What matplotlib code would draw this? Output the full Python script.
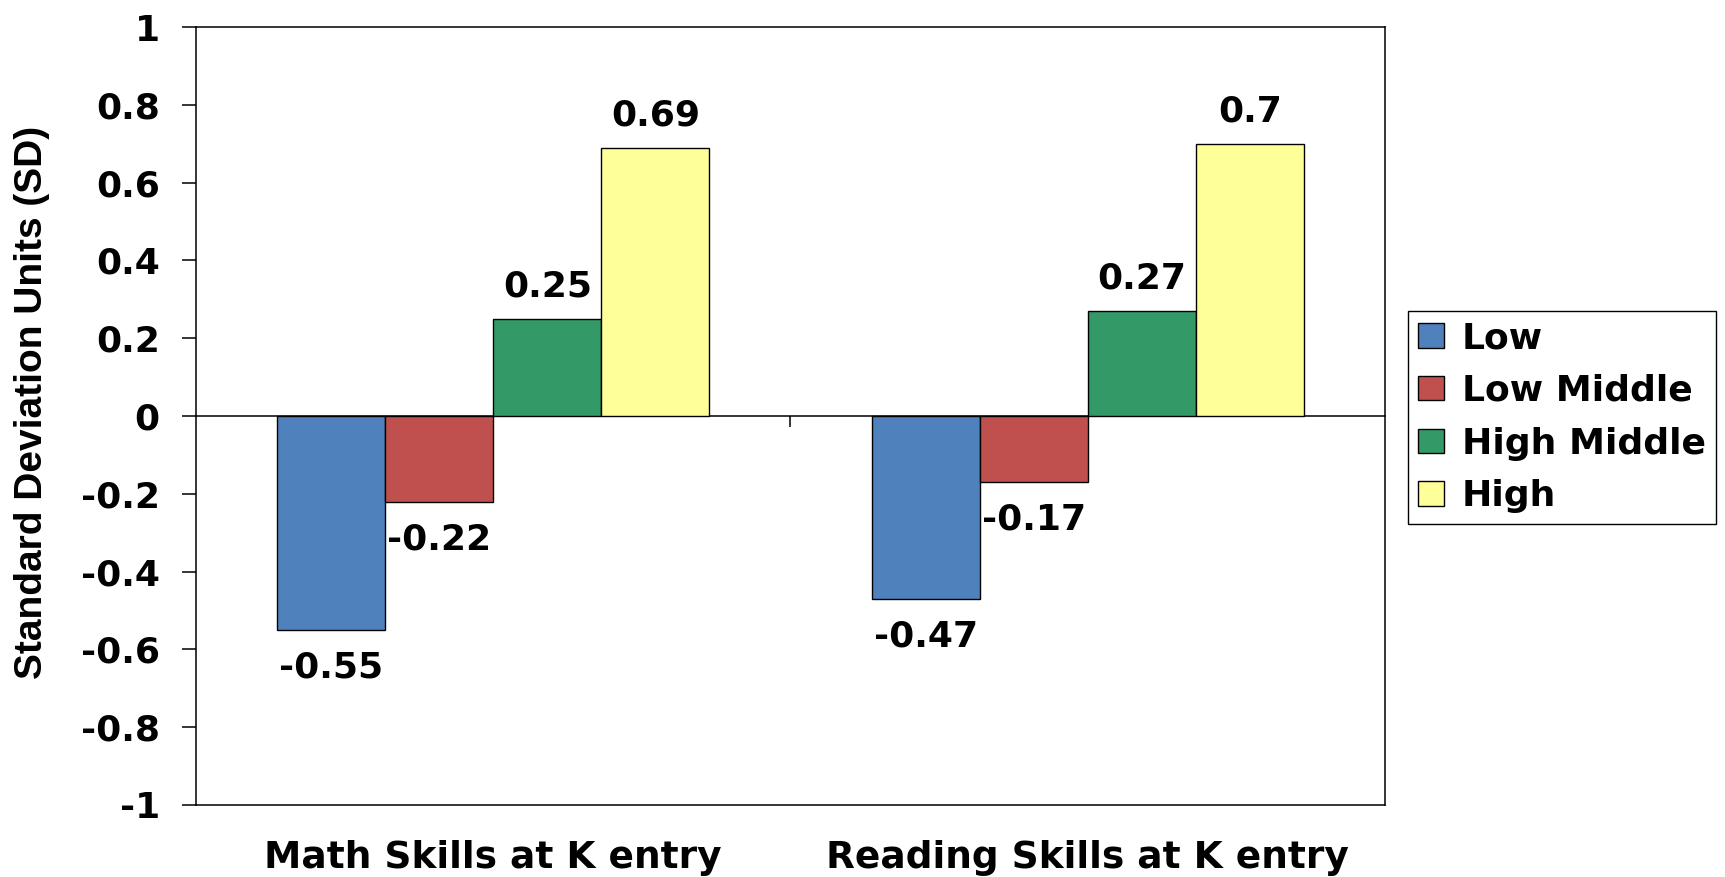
import matplotlib
matplotlib.use('Agg')
import matplotlib.pyplot as plt
import numpy as np

categories = ['Math Skills at K entry', 'Reading Skills at K entry']
groups = ['Low', 'Low Middle', 'High Middle', 'High']
low = [-0.55, -0.47]
low_middle = [-0.22, -0.17]
high_middle = [0.25, 0.27]
high = [0.69, 0.70]
colors = ['#4F81BD', '#C0504D', '#339966', '#FFFF99']
yticks = [-1, -0.8, -0.6, -0.4, -0.2, 0, 0.2, 0.4, 0.6, 0.8, 1]

plt.rcParams['font.family'] = 'DejaVu Sans'
plt.rcParams['font.weight'] = 'bold'
plt.rcParams['axes.unicode_minus'] = False

fig = plt.figure(figsize=(17.25, 8.77), dpi=100)
ax = fig.add_axes([0.1136, 0.0821, 0.6893, 0.8871])

x = np.arange(len(categories))
w = 1 / 5.5  # 4 bars + 150% gap
series = [low, low_middle, high_middle, high]
for i, (name, vals, c) in enumerate(zip(groups, series, colors)):
    bars = ax.bar(x + (i - 1.5) * w, vals, w, color=c, edgecolor='black',
                  linewidth=1.0, label=name, zorder=2)
    for b, v in zip(bars, vals):
        cx = b.get_x() + b.get_width() / 2
        if v >= 0:
            ax.annotate('{:g}'.format(v), (cx, v), xytext=(0, 16),
                        textcoords='offset points', ha='center', va='baseline',
                        fontsize=26, fontweight='bold')
        else:
            ax.annotate('{:g}'.format(v), (cx, v), xytext=(0, -15),
                        textcoords='offset points', ha='center', va='top',
                        fontsize=26, fontweight='bold')

ax.set_xlim(-0.5, 1.5)
ax.set_ylim(-1, 1)
ax.set_xticks(x, categories)
ax.set_yticks(yticks, ['{:g}'.format(t) for t in yticks])
ax.tick_params(axis='x', length=0, pad=25, labelsize=27)
ax.tick_params(axis='y', direction='out', length=10, width=1.1, pad=16, labelsize=26)
for s in ax.spines.values():
    s.set_linewidth(1.1)

# category axis crossing at zero with a divider tick between groups
zero = ax.secondary_xaxis(0.5)
zero.set_xticks([0.5])
zero.tick_params(direction='in', length=8, width=1.1, labeltop=False, labelbottom=False)
for s in zero.spines.values():
    s.set_linewidth(1.1)

ax.set_ylabel('Standard Deviation Units (SD)', family='Liberation Sans',
              fontsize=28, fontweight='bold')
ax.yaxis.set_label_coords(-0.123, 0.517)

leg = ax.legend(loc='upper left', bbox_to_anchor=(0.8162, 0.6454),
                bbox_transform=fig.transFigure, fancybox=False, edgecolor='black',
                framealpha=1, borderaxespad=0, borderpad=0.28, labelspacing=0.52,
                handlelength=0.72, handleheight=0.67, handletextpad=0.5,
                prop={'size': 26, 'weight': 'bold'})
leg.get_frame().set_linewidth(1.0)

fig.savefig('out.png', dpi=100)
